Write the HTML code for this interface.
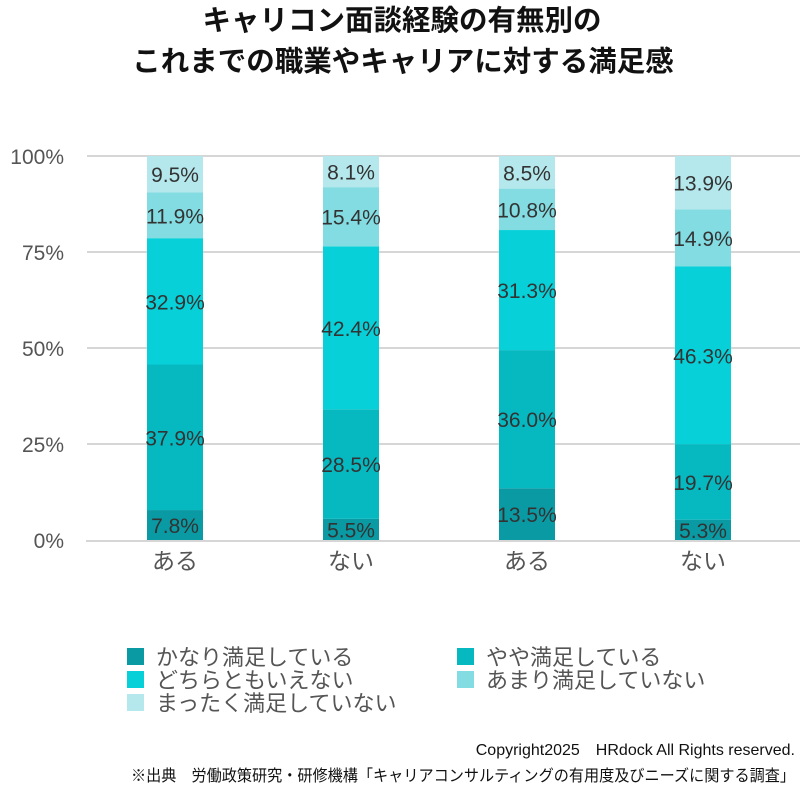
<!DOCTYPE html>
<html><head><meta charset="utf-8"><style>
body{margin:0;background:#fff;width:800px;height:790px;overflow:hidden;font-family:"Liberation Sans","Noto Sans CJK JP",sans-serif}
</style></head><body>
<svg width="800" height="790" xmlns="http://www.w3.org/2000/svg" font-family="Liberation Sans, Noto Sans CJK JP, sans-serif">
<text x="402" y="30" text-anchor="middle" font-size="28.5" font-weight="bold" fill="#111">キャリコン面談経験の有無別の</text>
<text x="403" y="71" text-anchor="middle" font-size="28.5" font-weight="bold" fill="#111">これまでの職業やキャリアに対する満足感</text>
<g stroke="#d6d6d6" stroke-width="2">
<line x1="87" x2="800" y1="156" y2="156"/><line x1="87" x2="800" y1="252" y2="252"/><line x1="87" x2="800" y1="348" y2="348"/><line x1="87" x2="800" y1="444" y2="444"/><line x1="86" x2="800" y1="541" y2="541"/>
</g>
<g font-size="21" fill="#555" text-anchor="end">
<text x="64" y="164">100%</text><text x="64" y="260">75%</text><text x="64" y="356">50%</text><text x="64" y="452">25%</text><text x="64" y="548">0%</text>
</g>
<g id="bars"></g>
<g font-size="23" fill="#555" text-anchor="middle">
<text x="175" y="569">ある</text><text x="351" y="569">ない</text><text x="527" y="569">ある</text><text x="703" y="569">ない</text>
</g>
<g font-size="22" fill="#555">
<rect x="127" y="648" width="17" height="17" fill="#0a9aa3"/><text x="156" y="665">かなり満足している</text>
<rect x="457" y="648" width="17" height="17" fill="#06b8c0"/><text x="486" y="665">やや満足している</text>
<rect x="127" y="671" width="17" height="17" fill="#07d0d8"/><text x="156" y="688">どちらともいえない</text>
<rect x="457" y="671" width="17" height="17" fill="#82dce2"/><text x="486" y="688">あまり満足していない</text>
<rect x="127" y="694" width="17" height="17" fill="#b5e8ec"/><text x="156" y="711">まったく満足していない</text>
</g>
<text x="795" y="755" text-anchor="end" font-size="16" fill="#111">Copyright2025　HRdock All Rights reserved.</text>
<text x="795" y="781" text-anchor="end" font-size="16" fill="#111" textLength="664" lengthAdjust="spacingAndGlyphs">※出典　労働政策研究・研修機構「キャリアコンサルティングの有用度及びニーズに関する調査」</text>
</svg>
<script>
var data=[[7.8,37.9,32.9,11.9,9.5],[5.5,28.5,42.4,15.4,8.1],[13.5,36.0,31.3,10.8,8.5],[5.3,19.7,46.3,14.9,13.9]];
var cols=["#0a9aa3","#06b8c0","#07d0d8","#82dce2","#b5e8ec"];
var cx=[175,351,527,703],g=document.getElementById("bars"),s="";
data.forEach(function(d,i){var tot=d.reduce(function(a,b){return a+b},0),y=540;
d.forEach(function(v,j){var h=v/tot*384;s+='<rect x="'+(cx[i]-28)+'" y="'+(y-h)+'" width="56" height="'+h+'" fill="'+cols[j]+'"/>';
s+='<text x="'+cx[i]+'" y="'+(y-h/2+8)+'" text-anchor="middle" font-size="21" fill="#333">'+v.toFixed(1)+'%</text>';y-=h;});});
g.innerHTML=s;
</script>
</body></html>
